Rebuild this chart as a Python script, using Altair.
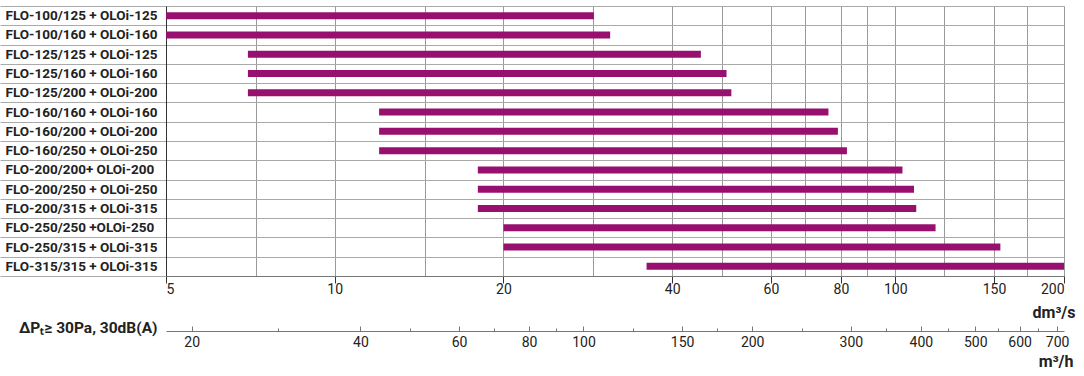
import altair as alt
import pandas as pd

labels = [
    "FLO-100/125 + OLOi-125", "FLO-100/160 + OLOi-160", "FLO-125/125 + OLOi-125",
    "FLO-125/160 + OLOi-160", "FLO-125/200 + OLOi-200", "FLO-160/160 + OLOi-160",
    "FLO-160/200 + OLOi-200", "FLO-160/250 + OLOi-250", "FLO-200/200+ OLOi-200",
    "FLO-200/250 + OLOi-250", "FLO-200/315 + OLOi-315", "FLO-250/250 +OLOi-250",
    "FLO-250/315 + OLOi-315", "FLO-315/315 + OLOi-315",
]
starts = [5, 5, 7, 7, 7, 12, 12, 12, 18, 18, 18, 20, 20, 36]
ends = [29, 31, 45, 50, 51, 76, 79, 82, 103, 108, 109, 118, 154, 200]

dm3s_major = [5, 10, 20, 40, 60, 80, 100, 150, 200]
dm3s_minor = [7.25, 14.5, 28.9, 49, 69, 89, 122, 172]
m3h_major = [20, 40, 60, 80, 100, 150, 200, 300, 400, 500, 600, 700]
m3h_minor = [28.5, 49, 69.3, 89.4, 122.5, 173, 245, 346, 447, 548, 648]

df = pd.DataFrame({"label": labels, "start": starts, "end": ends})
df2 = pd.DataFrame({"m3h": m3h_major + m3h_minor})

FONT = "Roboto"
BAR = "#98106f"

major1 = "[" + ",".join(str(v) for v in dm3s_major) + "]"
major2 = "[" + ",".join(str(v) for v in m3h_major) + "]"

bars = alt.Chart(df).mark_bar(size=7, color=BAR).encode(
    x=alt.X(
        "start:Q",
        scale=alt.Scale(type="log", domain=[5, 200], nice=False),
        axis=alt.Axis(
            values=dm3s_major + dm3s_minor,
            labelExpr=f"indexof({major1}, datum.value) >= 0 ? format(datum.value, 'd') : ''",
            grid=True,
            gridColor={"condition": {"test": "datum.value == 5", "value": "#333333"}, "value": "#9a9a9a"},
            gridWidth=1,
            tickColor="#333333",
            tickOpacity={"condition": {"test": f"indexof({major1}, datum.value) >= 0", "value": 1}, "value": 0},
            tickSize=7,
            domainColor="#777777",
            labelFont=FONT,
            labelFontSize=14,
            labelColor="#222222",
            labelPadding=-1,
            title="dm³/s",
            titleFont=FONT,
            titleFontSize=16,
            titleFontWeight="bold",
            titleColor="#222222",
            titleAnchor="end",
            titleAlign="right",
            titleBaseline="middle",
            titleX=909,
            titleY=36,
        ),
    ),
    x2="end:Q",
    y=alt.Y(
        "label:N",
        sort=labels,
        scale=alt.Scale(paddingInner=0, paddingOuter=0),
        axis=alt.Axis(
            grid=True,
            gridColor="#aaaaaa",
            tickBand="extent",
            ticks=True,
            tickSize=166,
            tickColor="#aaaaaa",
            domain=True,
            domainColor="#333333",
            labelAlign="left",
            labelBaseline="middle",
            labelPadding=-5,
            labelFont=FONT,
            labelFontSize=13.5,
            labelFontWeight="bold",
            labelColor="#222222",
            title="ΔPₜ≥ 30Pa, 30dB(A)",
            titleFont=FONT,
            titleFontSize=15.5,
            titleFontWeight="bold",
            titleColor="#222222",
            titleAngle=0,
            titleAlign="right",
            titleBaseline="middle",
            titleX=-9,
            titleY=321,
        ),
    ),
)

sec = alt.Chart(df2).mark_point(opacity=0).encode(
    x=alt.X(
        "m3h:Q",
        scale=alt.Scale(type="log", domain=[18, 720], nice=False),
        axis=alt.Axis(
            orient="top",
            offset=-325,
            values=m3h_major + m3h_minor,
            labelExpr=f"indexof({major2}, datum.value) >= 0 ? format(datum.value, 'd') : ''",
            grid=False,
            tickColor="#777777",
            tickSize={"condition": {"test": f"indexof({major2}, datum.value) >= 0", "value": 5}, "value": 3},
            domainColor="#777777",
            labelFont=FONT,
            labelFontSize=14,
            labelColor="#222222",
            labelBaseline="top",
            labelPadding=-9,
            title="m³/h",
            titleFont=FONT,
            titleFontSize=16,
            titleFontWeight="bold",
            titleColor="#222222",
            titleAnchor="end",
            titleAlign="right",
            titleBaseline="middle",
            titleX=907,
            titleY=30,
        ),
    ),
)

chart = alt.layer(bars, sec).resolve_scale(x="independent").properties(
    width=898,
    height=270,
    autosize=alt.AutoSizeParams(type="none"),
    padding={"left": 166, "top": 6, "right": 20, "bottom": 100},
).configure_view(stroke=None).configure(background="white")

chart.save("out.html", embed_options={"renderer": "svg", "actions": False})
